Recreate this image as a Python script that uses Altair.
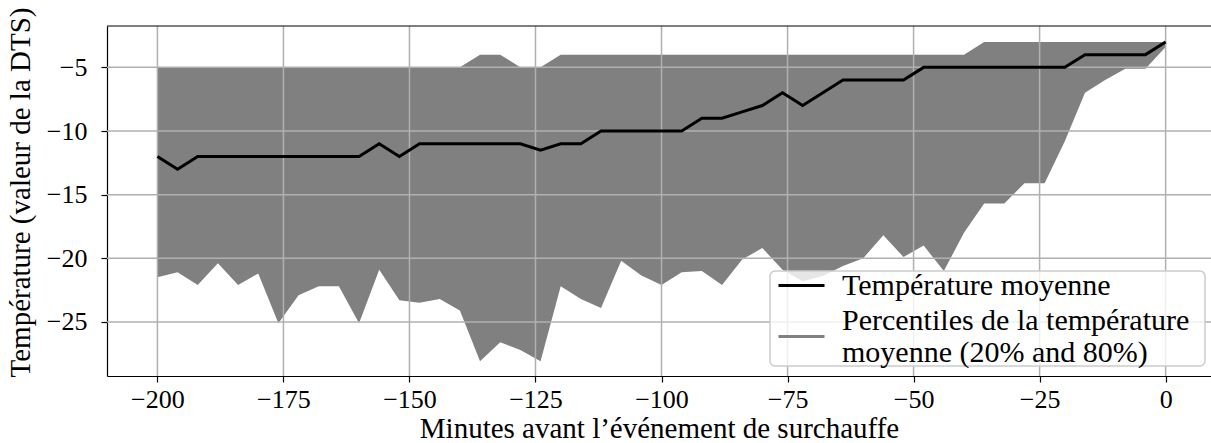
import altair as alt
import pandas as pd

minutes = list(range(-200, 1, 4))

mean_temp = [-12, -13, -12, -12, -12, -12, -12, -12, -12, -12,
             -12, -11, -12, -11, -11, -11, -11, -11, -11, -11.5,
             -11, -11, -10, -10, -10, -10, -10, -9, -9, -8.5,
             -8, -7, -8, -7, -6, -6, -6, -6, -5, -5,
             -5, -5, -5, -5, -5, -5, -4, -4, -4, -4,
             -3]

p80 = [-5] * 15 + [-5, -4, -4, -5, -5] + [-4] * 21 + [-3] * 10

p20 = [-21.5, -21.1, -22.1, -20.4, -22.1, -21.2, -25.1, -22.9, -22.2, -22.2,
       -25.1, -20.9, -23.3, -23.5, -23.2, -24.1, -28.1, -26.6, -27.2, -28.1,
       -22.2, -23.2, -23.9, -20.2, -21.35, -22.1, -21.1, -21.0, -22.1, -20.1,
       -19.2, -20.9, -21.8, -21.4, -20.6, -20.0, -18.2, -19.9, -19.0, -21.0,
       -18.0, -15.7, -15.7, -14.1, -14.1, -10.8, -7.0, -6.0, -5.1, -5.1,
       -3.4]

x_ticks = [-200, -175, -150, -125, -100, -75, -50, -25, 0]
y_ticks = [-25, -20, -15, -10, -5]

mean_name = "Température moyenne"
band_name = "Percentiles de la température moyenne (20% and 80%)"
band_lines = ["Percentiles de la température", "moyenne (20% and 80%)"]

df = pd.DataFrame({"minutes": minutes, "mean": mean_temp, "p20": p20, "p80": p80})

FONT = "Liberation Serif"
W, H = 1104, 350
LEG_FS = 30

xscale = alt.Scale(domain=[-210, 9], nice=False, zero=False)
yscale = alt.Scale(domain=[-29.25, -1.75], nice=False, zero=False)

xaxis = alt.Axis(values=x_ticks, grid=False, title="Minutes avant l’événement de surchauffe",
                 labelFont=FONT, labelFontSize=26, labelColor="black",
                 titleFont=FONT, titleFontSize=29, titleFontWeight="normal", titleColor="black",
                 domainColor="black", domainWidth=1.2, tickColor="black", tickWidth=1.2,
                 tickSize=6, labelPadding=4, titlePadding=2)
yaxis = alt.Axis(values=y_ticks, grid=False, title="Température (valeur de la DTS)",
                 labelFont=FONT, labelFontSize=26, labelColor="black",
                 titleFont=FONT, titleFontSize=29, titleFontWeight="normal", titleColor="black",
                 domainColor="black", domainWidth=1.2, tickColor="black", tickWidth=1.2,
                 tickSize=6, labelPadding=14, labelBaseline="middle",
                 titleAngle=270, titleX=-78, titleY=166, titleAlign="center",
                 titleBaseline="alphabetic")

common_leg = dict(
    title=None, orient="none", symbolType="stroke", symbolSize=2116,
    symbolStrokeWidth=3, labelFont=FONT, labelFontSize=LEG_FS,
    labelColor="black", labelLimit=0, labelOffset=16, padding=0,
)
legend_mean = alt.Legend(legendX=670, legendY=235, **common_leg)
legend_band = alt.Legend(
    legendX=670, legendY=286, symbolStrokeColor="#808080",
    labelBaseline="line-bottom",
    labelExpr="['" + band_lines[0] + "', '" + band_lines[1] + "']",
    **common_leg,
)

base = alt.Chart(df)

area = base.mark_area(opacity=1).transform_calculate(
    serie="'" + band_name + "'"
).encode(
    x=alt.X("minutes:Q", scale=xscale, axis=xaxis),
    y=alt.Y("p20:Q", scale=yscale, axis=yaxis),
    y2="p80:Q",
    fill=alt.Fill("serie:N", scale=alt.Scale(domain=[band_name], range=["#808080"]),
                  legend=legend_band),
)

xgrid = alt.Chart(pd.DataFrame({"t": x_ticks})).mark_rule(
    color="#b0b0b0", strokeWidth=1.5
).encode(x=alt.X("t:Q", scale=xscale, axis=xaxis))

ygrid = alt.Chart(pd.DataFrame({"t": y_ticks})).mark_rule(
    color="#b0b0b0", strokeWidth=1.5
).encode(y=alt.Y("t:Q", scale=yscale, axis=yaxis))

line = base.mark_line(strokeWidth=3).transform_calculate(
    serie="'" + mean_name + "'"
).encode(
    x=alt.X("minutes:Q", scale=xscale, axis=xaxis),
    y=alt.Y("mean:Q", scale=yscale, axis=yaxis),
    stroke=alt.Stroke("serie:N", scale=alt.Scale(domain=[mean_name], range=["#000000"]),
                      legend=legend_mean),
)

one = pd.DataFrame({"a": [0]})

legend_frame = alt.Chart(one).mark_rect(
    fill="white", fillOpacity=0.8, stroke="#cccccc", strokeWidth=1.5, cornerRadius=5
).encode(x=alt.value(663), x2=alt.value(1098), y=alt.value(245), y2=alt.value(340))

top_border = alt.Chart(one).mark_rule(
    color="black", strokeWidth=1.2
).encode(x=alt.value(0), x2=alt.value(W), y=alt.value(0))

chart = alt.layer(area, xgrid, ygrid, line, legend_frame, top_border).properties(
    width=W, height=H,
    autosize=alt.AutoSizeParams(type="none"),
    padding={"left": 107, "top": 26, "right": 0, "bottom": 67},
).resolve_legend(fill="independent", stroke="independent").configure_view(stroke=None)

chart.save("out.html", embed_options={"renderer": "svg", "actions": False})
